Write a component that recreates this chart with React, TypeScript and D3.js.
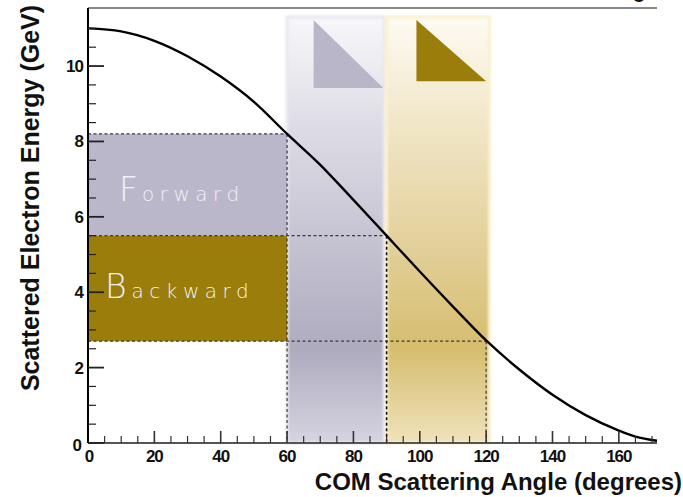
import * as d3 from 'd3';
import React, { useRef, useEffect } from 'react';

// curve readings: scattered electron energy vs COM angle
const angleDeg = [0, 10, 20, 30, 40, 50, 60, 70, 80, 90, 100, 110, 120, 130, 140, 150, 160, 165, 171.5];
const energyGeV = [11.0, 10.92, 10.67, 10.26, 9.72, 9.05, 8.2, 7.38, 6.45, 5.5, 4.55, 3.62, 2.72, 1.95, 1.28, 0.74, 0.33, 0.17, 0.06];

// region boundaries (forward / backward)
const cutAngles = [60, 90, 120];
const cutEnergies = [8.2, 5.5, 2.7];

// shaded angle bands and their corner flags
const bandAngles = [[60, 89.3], [90, 121]];
const bandTop = 11.3;
const flagAngles = [[68, 89], [99, 120]];
const flagEnergies = [[11.22, 9.42], [11.22, 9.6]];

const xTicks = [0, 20, 40, 60, 80, 100, 120, 140, 160];
const yTicks = [0, 2, 4, 6, 8, 10];

function App() {
    const ref = useRef(null);

    useEffect(() => {
        const svg = d3.select(ref.current);
        svg.selectAll('*').remove();

        const x = d3.scaleLinear().domain([0, 171.5]).range([88, 657]);
        const y = d3.scaleLinear().domain([0, 11.54]).range([443, 8]);

        const defs = svg.append('defs');
        const grad = (id, stops) => {
            const g = defs.append('linearGradient').attr('id', id)
                .attr('x1', 0).attr('y1', 0).attr('x2', 0).attr('y2', 1);
            stops.forEach(s => g.append('stop').attr('offset', s[0]).attr('stop-color', s[1]));
        };
        grad('grayBand', [[0, '#f7f7fa'], [0.25, '#dedde6'], [0.55, '#c3c1d0'], [0.78, '#aeabbf'], [1, '#d6d4e0']]);
        grad('goldBand', [[0, '#fdfbf3'], [0.25, '#f1e6c7'], [0.55, '#e2cf98'], [0.78, '#d6bd6e'], [1, '#efe3bd']]);
        defs.append('filter').attr('id', 'soft')
            .append('feGaussianBlur').attr('stdDeviation', 0.8);

        // bands
        const bandFill = ['url(#grayBand)', 'url(#goldBand)'];
        const bandEdge = ['#e8e7ef', '#fbf0cc'];
        bandAngles.forEach((b, i) => {
            svg.append('rect')
                .attr('x', x(b[0]))
                .attr('y', y(bandTop))
                .attr('width', x(b[1]) - x(b[0]))
                .attr('height', y(0) - y(bandTop))
                .attr('fill', bandFill[i])
                .attr('stroke', bandEdge[i])
                .attr('stroke-width', 3)
                .attr('filter', 'url(#soft)');
        });

        // flags
        const flagFill = ['#b9b6c9', '#9a7d0b'];
        flagAngles.forEach((f, i) => {
            const e = flagEnergies[i];
            svg.append('path')
                .attr('d', `M${x(f[0])},${y(e[0])}L${x(f[0])},${y(e[1])}L${x(f[1])},${y(e[1])}Z`)
                .attr('fill', flagFill[i]);
        });

        // forward / backward boxes
        svg.append('rect')
            .attr('x', x(0)).attr('y', y(cutEnergies[0]))
            .attr('width', x(cutAngles[0]) - x(0))
            .attr('height', y(cutEnergies[1]) - y(cutEnergies[0]))
            .attr('fill', '#bab7ca');
        svg.append('rect')
            .attr('x', x(0)).attr('y', y(cutEnergies[1]))
            .attr('width', x(cutAngles[0]) - x(0))
            .attr('height', y(cutEnergies[2]) - y(cutEnergies[1]))
            .attr('fill', '#9a7d0b');

        const label = (txt0, txt1, lx, ly, gap) => {
            const t = svg.append('text')
                .attr('x', lx).attr('y', ly)
                .attr('font-family', '"DejaVu Sans", sans-serif')
                .attr('font-weight', 300)
                .attr('fill', '#f1f1f8');
            t.append('tspan').attr('font-size', 33).text(txt0);
            t.append('tspan').attr('font-size', 20).attr('dx', gap)
                .attr('letter-spacing', 5.5).text(txt1);
        };
        label('F', 'orward', x(0) + 31, y(6.5) + 3, 4);
        label('B', 'ackward', x(0) + 17, y(3.95) + 4, 5);

        // dashed guides
        cutAngles.forEach((a, i) => {
            const e = cutEnergies[i];
            svg.append('line')
                .attr('x1', x(0)).attr('x2', x(a))
                .attr('y1', y(e)).attr('y2', y(e))
                .attr('stroke', '#3a3a3a').attr('stroke-width', 1.2)
                .attr('stroke-dasharray', '3,2.5');
            svg.append('line')
                .attr('x1', x(a)).attr('x2', x(a))
                .attr('y1', y(e)).attr('y2', y(0))
                .attr('stroke', i === 1 ? '#111' : '#3a3a3a')
                .attr('stroke-width', i === 1 ? 1.6 : 1.2)
                .attr('stroke-dasharray', '3,2.5');
        });

        // energy curve
        const line = d3.line()
            .x(d => x(d[0]))
            .y(d => y(d[1]))
            .curve(d3.curveMonotoneX);
        svg.append('path')
            .datum(angleDeg.map((a, i) => [a, energyGeV[i]]))
            .attr('d', line)
            .attr('fill', 'none')
            .attr('stroke', '#000')
            .attr('stroke-width', 2.4);

        // frame
        svg.append('line')
            .attr('x1', x(0)).attr('x2', x(171.5))
            .attr('y1', y(11.54)).attr('y2', y(11.54))
            .attr('stroke', '#8a8a8a').attr('stroke-width', 2);

        // x axis: ticks point inward
        const xAxis = svg.append('g').attr('transform', `translate(0,${y(0)})`);
        xAxis.append('line')
            .attr('x1', x(0)).attr('x2', x(171.5))
            .attr('stroke', '#555').attr('stroke-width', 2);
        d3.range(0, 171, 5).forEach(v => {
            const major = v % 20 === 0;
            xAxis.append('line')
                .attr('x1', x(v)).attr('x2', x(v))
                .attr('y1', 0).attr('y2', major ? -12 : -7)
                .attr('stroke', '#333').attr('stroke-width', major ? 1.6 : 1.2);
        });
        xAxis.selectAll('.xl').data(xTicks).enter().append('text')
            .attr('x', d => x(d) + (d === 0 ? 1 : 0))
            .attr('y', 19)
            .attr('text-anchor', 'middle')
            .attr('font-family', '"Liberation Sans", Arial, sans-serif')
            .attr('font-weight', 'bold')
            .attr('font-size', 17)
            .attr('letter-spacing', -1)
            .attr('fill', '#111')
            .text(d => d);

        // y axis
        const yAxis = svg.append('g').attr('transform', `translate(${x(0)},0)`);
        yAxis.append('line')
            .attr('y1', y(0)).attr('y2', y(11.54))
            .attr('stroke', '#000').attr('stroke-width', 2);
        d3.range(0, 11.01, 0.5).forEach(v => {
            const major = Math.abs(v % 2) < 1e-6;
            yAxis.append('line')
                .attr('x1', 0).attr('x2', major ? 16 : 8)
                .attr('y1', y(v)).attr('y2', y(v))
                .attr('stroke', '#222').attr('stroke-width', major ? 1.8 : 1.2);
        });
        yAxis.selectAll('.yl').data(yTicks).enter().append('text')
            .attr('x', d => (d === 0 ? -7 : -5))
            .attr('y', d => y(d) + 6 + (d === 0 ? 2 : 0))
            .attr('text-anchor', 'end')
            .attr('font-family', '"Liberation Sans", Arial, sans-serif')
            .attr('font-weight', 'bold')
            .attr('font-size', 17)
            .attr('letter-spacing', -1)
            .attr('fill', '#111')
            .text(d => d);

        // axis titles
        svg.append('text')
            .attr('x', 682)
            .attr('y', 490)
            .attr('text-anchor', 'end')
            .attr('font-family', '"Liberation Sans", Arial, sans-serif')
            .attr('font-weight', 'bold')
            .attr('font-size', 24)
            .attr('fill', '#111')
            .text('COM Scattering Angle (degrees)');

        svg.append('text')
            .attr('transform', 'translate(39,198) rotate(-90)')
            .attr('text-anchor', 'middle')
            .attr('font-family', '"Liberation Sans", Arial, sans-serif')
            .attr('font-weight', 'bold')
            .attr('font-size', 25)
            .attr('fill', '#111')
            .text('Scattered Electron Energy (GeV)');

        // cut-off glyph of a title above the frame
        svg.append('text')
            .attr('x', 632).attr('y', 2)
            .attr('font-family', '"Liberation Sans", Arial, sans-serif')
            .attr('font-weight', 'bold')
            .attr('font-size', 24)
            .attr('fill', '#111')
            .text('e');
    }, []);

    return (
        <svg ref={ref} width={683} height={497}
            style={{ position: 'absolute', left: 0, top: 0, background: '#fff' }}>
        </svg>
    );
}

export default App;
